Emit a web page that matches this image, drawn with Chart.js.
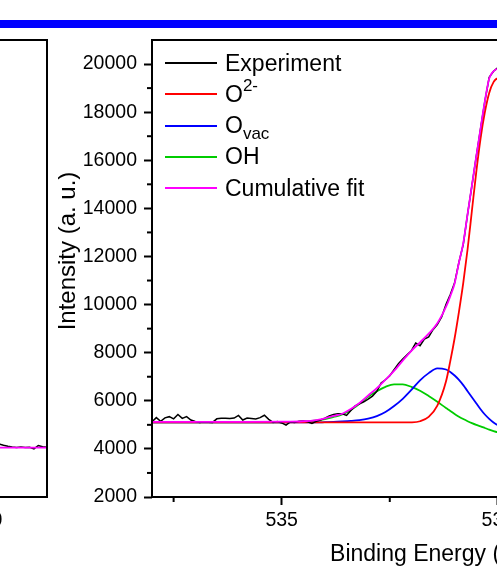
<!DOCTYPE html>
<html>
<head>
<meta charset="utf-8">
<script src="https://cdn.jsdelivr.net/npm/chart.js@4.4.0/dist/chart.umd.min.js"></script>
<style>
  html, body { margin: 0; padding: 0; background: #fff; }
  body { width: 497px; height: 568px; overflow: hidden; position: relative; font-family: "Liberation Sans", Arial, sans-serif; }
  #topBar { position: absolute; left: 0; top: 20px; width: 497px; height: 8px; background: #0000ff; }
  #leftChart { position: absolute; left: -253px; top: 0; }
  #mainChart { position: absolute; left: 0; top: 0; }
  #legend { position: absolute; left: 165px; top: 47.5px; font-size: 23px; color: #000; }
  .row { height: 31.25px; display: flex; align-items: center; white-space: nowrap; }
  .swatch { display: inline-block; width: 52px; height: 2px; margin-right: 8px; }
  sup, sub { font-size: 17px; line-height: 0; }
  sup { vertical-align: 11px; }
  sub { vertical-align: -6px; }
</style>
</head>
<body>
<div id="topBar"></div>
<canvas id="leftChart" width="303" height="568"></canvas>
<canvas id="mainChart" width="760" height="568"></canvas>
<div id="legend"></div>
<script>
// axis ticks
const xMajorTicks = [535, 530];
const xMinorTicks = [537.5, 532.5, 527.5];
const yMajorTicks = [2000, 4000, 6000, 8000, 10000, 12000, 14000, 16000, 18000, 20000];
const yMinorTicks = [3000, 5000, 7000, 9000, 11000, 13000, 15000, 17000, 19000];
const leftXTicks = [530];

// measured spectrum (binding energy, counts)
const expEnergy = [
  538.0, 537.9, 537.8, 537.7, 537.6, 537.5, 537.4, 537.3, 537.2, 537.1,
  537.0, 536.9, 536.8, 536.7, 536.6, 536.5, 536.4, 536.3, 536.2, 536.1,
  536.0, 535.9, 535.8, 535.7, 535.6, 535.5, 535.4, 535.3, 535.2, 535.1,
  535.0, 534.9, 534.8, 534.7, 534.6, 534.5, 534.4, 534.3, 534.2, 534.1,
  534.0, 533.9, 533.8, 533.7, 533.6, 533.5, 533.4, 533.3, 533.2, 533.1,
  533.0, 532.9, 532.8, 532.7, 532.6, 532.5, 532.4, 532.3, 532.2, 532.1,
  532.0, 531.9, 531.8, 531.7, 531.6, 531.5, 531.4, 531.3, 531.2, 531.1,
  531.0, 530.9, 530.8, 530.7, 530.6, 530.5, 530.4, 530.3, 530.2, 530.1,
  530.0, 529.8, 529.6, 529.4, 529.2, 529.0, 528.8, 528.6, 528.4, 528.2,
  528.0, 527.5, 527.0, 526.5, 526.0, 525.5, 525.0
];
const expIntensity = [
  5125, 5300, 5150, 5290, 5340, 5250, 5430, 5270, 5340, 5200,
  5140, 5100, 5120, 5110, 5100, 5250, 5270, 5270, 5260, 5280,
  5390, 5200, 5280, 5260, 5240, 5300, 5400, 5230, 5100, 5140,
  5080, 4990, 5120, 5100, 5150, 5160, 5130, 5060, 5150, 5200,
  5280, 5375, 5430, 5458, 5458, 5389, 5597, 5792, 5875, 5958,
  6069, 6194, 6389, 6736, 6875, 7042, 7292, 7542, 7736, 7917,
  8083, 8403, 8292, 8570, 8653, 8958, 9167, 9486, 10000, 10417,
  10903, 11760, 12500, 13760, 14950, 16150, 17320, 18460, 19450, 19700,
  19850, 19700, 19150, 18050, 16100, 13700, 11250, 9000, 7250, 5900,
  5150, 4480, 4230, 4180, 4120, 4100, 4090
];

// fitted components
const fitEnergy = [
  538, 537, 536, 535, 534.5, 534.2, 534.0, 533.8, 533.6, 533.4,
  533.2, 533.0, 532.8, 532.6, 532.4, 532.2, 532.0, 531.8, 531.6, 531.4,
  531.2, 531.1, 531.0, 530.9, 530.8, 530.7, 530.6, 530.5, 530.4, 530.3,
  530.2, 530.1, 530.0, 529.8, 529.6, 529.4, 529.2, 529.0, 528.8, 528.6,
  528.4, 528.2, 528.0, 527.5, 527.0, 526.5, 526.0, 525.5, 525.0
];
const o2Fit = [
  5100, 5100, 5100, 5100, 5100, 5100, 5100, 5100, 5100, 5100,
  5100, 5100, 5100, 5100, 5100, 5100, 5105, 5150, 5330, 5800,
  6800, 7650, 8600, 9700, 10900, 12300, 13900, 15500, 16900, 18000,
  18800, 19250, 19400, 19300, 18700, 17600, 15800, 13500, 11000, 8800,
  7000, 5700, 4900, 4300, 4150, 4080, 4050, 4040, 4030
];
const ovacFit = [
  5100, 5100, 5100, 5100, 5100, 5100, 5110, 5120, 5140, 5165,
  5200, 5260, 5360, 5530, 5780, 6080, 6450, 6850, 7150, 7350,
  7300, 7200, 7050, 6870, 6650, 6400, 6150, 5900, 5650, 5430,
  5250, 5100, 4990, 4850, 4720, 4640, 4580, 4530, 4490, 4460,
  4430, 4400, 4380, 4330, 4290, 4260, 4240, 4230, 4220
];
const ohFit = [
  5100, 5100, 5100, 5105, 5130, 5180, 5240, 5330, 5430, 5620,
  5880, 6170, 6400, 6580, 6680, 6680, 6580, 6420, 6200, 5960,
  5700, 5580, 5450, 5340, 5240, 5150, 5070, 5000, 4940, 4870,
  4800, 4740, 4690, 4610, 4540, 4490, 4440, 4400, 4370, 4340,
  4320, 4300, 4280, 4240, 4210, 4190, 4170, 4160, 4150
];
const cumulativeFit = [
  5125, 5125, 5125, 5130, 5150, 5200, 5270, 5370, 5460, 5660,
  5910, 6220, 6520, 6880, 7240, 7670, 8080, 8430, 8790, 9220,
  9900, 10350, 10880, 11750, 12550, 13760, 14950, 16150, 17320, 18460,
  19400, 19700, 19800, 19750, 19200, 18000, 16100, 13700, 11200, 9000,
  7200, 5900, 5100, 4450, 4250, 4170, 4130, 4110, 4100
];

// neighbouring panel (only its right edge is in view)
const leftEnergy = [535.5, 534.0, 532.0, 530.5, 529.8, 529.7, 529.6, 529.5, 529.4, 529.3, 529.2, 529.1, 529.0, 528.9, 528.8, 528.7, 528.6];
const leftIntensity = [4070, 4080, 4060, 4090, 4120, 4200, 4150, 4110, 4080, 4060, 4080, 4060, 4070, 4000, 4140, 4090, 4070];
const leftFit = [4055, 4055, 4055, 4055, 4055, 4055, 4055, 4055, 4055, 4055, 4055, 4055, 4055, 4055, 4055, 4055, 4055];

const seriesNames = ['Experiment', 'O2-', 'Ovac', 'OH', 'Cumulative fit'];
const legendNames = ['Experiment', 'O<sup>2-</sup>', 'O<sub>vac</sub>', 'OH', 'Cumulative fit'];
const seriesColors = ['#000000', '#ff0000', '#0000ff', '#00cc00', '#ff00ff'];

Chart.defaults.font.family = '"Liberation Sans", Arial, sans-serif';
Chart.defaults.color = '#000';

const toPoints = (xs, ys) => xs.map((x, i) => ({ x: x, y: ys[i] }));

const frame = {
  id: 'frame',
  afterDraw(chart) {
    const { ctx, chartArea: a } = chart;
    ctx.save();
    ctx.strokeStyle = '#000';
    ctx.lineWidth = 2;
    ctx.strokeRect(a.left, a.top, a.right - a.left, a.bottom - a.top);
    ctx.restore();
  }
};

const minorTicks = {
  id: 'minorTicks',
  afterDraw(chart, args, opts) {
    const { ctx, scales } = chart;
    ctx.save();
    ctx.strokeStyle = '#000';
    ctx.lineWidth = 2;
    (opts.x || []).forEach(v => {
      const px = scales.x.getPixelForValue(v);
      ctx.beginPath();
      ctx.moveTo(px, scales.x.top);
      ctx.lineTo(px, scales.x.top + 5);
      ctx.stroke();
    });
    (opts.y || []).forEach(v => {
      const py = scales.y.getPixelForValue(v);
      ctx.beginPath();
      ctx.moveTo(scales.y.right - 5, py);
      ctx.lineTo(scales.y.right, py);
      ctx.stroke();
    });
    ctx.restore();
  }
};

// y title is a bit above the middle of the axis in the original, so draw it by hand
const yTitle = {
  id: 'yTitle',
  afterDraw(chart, args, opts) {
    if (!opts.text) return;
    const ctx = chart.ctx;
    ctx.save();
    ctx.font = opts.size + 'px "Liberation Sans", Arial, sans-serif';
    ctx.fillStyle = '#000';
    ctx.textAlign = 'center';
    ctx.textBaseline = 'middle';
    ctx.translate(opts.x, opts.y);
    ctx.rotate(-Math.PI / 2);
    ctx.fillText(opts.text, 0, 0);
    ctx.restore();
  }
};

function xScale(min, max, ticks, title) {
  return {
    type: 'linear',
    min: min,
    max: max,
    reverse: true,
    afterBuildTicks: s => { s.ticks = ticks.map(v => ({ value: v })); },
    afterFit: s => { s.height = 71; },
    ticks: { font: { size: 19.5 }, color: '#000', padding: 4, maxRotation: 0, autoSkip: false, callback: v => v },
    grid: { drawOnChartArea: false, tickLength: 8, tickWidth: 2, tickColor: '#000' },
    border: { display: false },
    title: { display: !!title, text: title || '', font: { size: 23 }, color: '#000', padding: 0 }
  };
}

const lineDefaults = { pointRadius: 0, fill: false, borderWidth: 1.8, cubicInterpolationMode: 'monotone' };

new Chart(document.getElementById('leftChart'), {
  type: 'line',
  data: {
    datasets: [
      Object.assign({}, lineDefaults, { label: 'Cumulative fit', data: toPoints(leftEnergy, leftFit), borderColor: seriesColors[4], order: 0 }),
      Object.assign({}, lineDefaults, { label: 'Experiment', data: toPoints(leftEnergy, leftIntensity), borderColor: seriesColors[0], borderWidth: 1.5, cubicInterpolationMode: 'default', tension: 0, order: 1 })
    ]
  },
  options: {
    responsive: false,
    animation: false,
    layout: { padding: { top: 40, right: 3, left: 0, bottom: 0 } },
    plugins: { legend: { display: false }, tooltip: { enabled: false }, minorTicks: {}, yTitle: {} },
    scales: {
      x: xScale(528.6, 535.5, leftXTicks, null),
      y: { type: 'linear', min: 2000, max: 21000, display: false }
    }
  },
  plugins: [frame, minorTicks, yTitle]
});

const datasets = [
  { label: seriesNames[4], data: toPoints(fitEnergy, cumulativeFit), borderColor: seriesColors[4], order: 0 },
  { label: seriesNames[0], data: toPoints(expEnergy, expIntensity), borderColor: seriesColors[0], order: 1, borderWidth: 1.5, cubicInterpolationMode: 'default', tension: 0 },
  { label: seriesNames[1], data: toPoints(fitEnergy, o2Fit), borderColor: seriesColors[1], order: 2 },
  { label: seriesNames[2], data: toPoints(fitEnergy, ovacFit), borderColor: seriesColors[2], order: 3 },
  { label: seriesNames[3], data: toPoints(fitEnergy, ohFit), borderColor: seriesColors[3], order: 4 }
].map(d => Object.assign({}, lineDefaults, d));

new Chart(document.getElementById('mainChart'), {
  type: 'line',
  data: { datasets: datasets },
  options: {
    responsive: false,
    animation: false,
    layout: { padding: { top: 40, right: 46, left: 0, bottom: 0 } },
    plugins: {
      legend: { display: false },
      tooltip: { enabled: false },
      minorTicks: { x: xMinorTicks, y: yMinorTicks },
      yTitle: { text: 'Intensity (a. u.)', x: 68, y: 251, size: 24 }
    },
    scales: {
      x: xScale(525, 538, xMajorTicks, 'Binding Energy (eV)'),
      y: {
        type: 'linear',
        min: 2000,
        max: 21000,
        afterBuildTicks: s => { s.ticks = yMajorTicks.map(v => ({ value: v })); },
        afterFit: s => { s.width = 152; },
        ticks: { font: { size: 19.5 }, color: '#000', padding: 7, callback: v => v },
        grid: { drawOnChartArea: false, tickLength: 8, tickWidth: 2, tickColor: '#000' },
        border: { display: false }
      }
    }
  },
  plugins: [frame, minorTicks, yTitle]
});

// legend with sub/superscripts
const legend = document.getElementById('legend');
seriesNames.forEach((name, i) => {
  const row = document.createElement('div');
  row.className = 'row';
  const sw = document.createElement('span');
  sw.className = 'swatch';
  sw.style.backgroundColor = seriesColors[i];
  const txt = document.createElement('span');
  txt.innerHTML = legendNames[i];
  row.appendChild(sw);
  row.appendChild(txt);
  legend.appendChild(row);
});
</script>
</body>
</html>
